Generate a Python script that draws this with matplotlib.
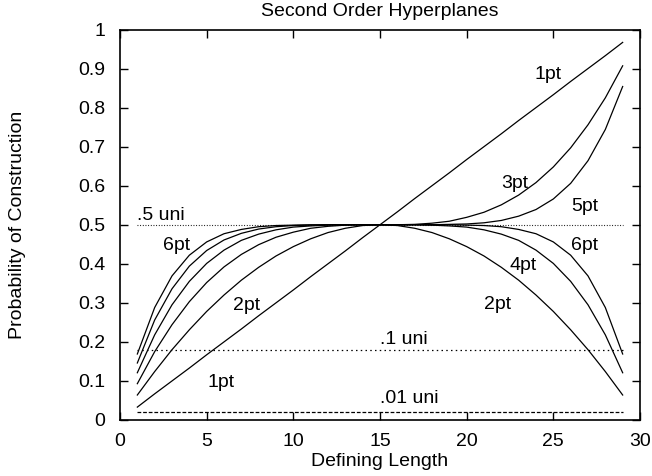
import matplotlib
matplotlib.use("Agg")
import matplotlib.pyplot as plt

plt.rcParams['font.family'] = ['Liberation Sans', 'DejaVu Sans']

x = list(range(1, 30))

p1 = [0.033, 0.067, 0.100, 0.133, 0.167, 0.200, 0.233, 0.267, 0.300, 0.333,
      0.367, 0.400, 0.433, 0.467, 0.500, 0.533, 0.567, 0.600, 0.633, 0.667,
      0.700, 0.733, 0.767, 0.800, 0.833, 0.867, 0.900, 0.933, 0.967]
p2 = [0.064, 0.124, 0.180, 0.231, 0.278, 0.320, 0.358, 0.391, 0.420, 0.444,
      0.464, 0.480, 0.491, 0.498, 0.500, 0.498, 0.491, 0.480, 0.464, 0.444,
      0.420, 0.391, 0.358, 0.320, 0.278, 0.231, 0.180, 0.124, 0.064]
p3 = [0.093, 0.175, 0.244, 0.303, 0.352, 0.392, 0.424, 0.449, 0.468, 0.481,
      0.491, 0.496, 0.499, 0.500, 0.500, 0.500, 0.501, 0.504, 0.509, 0.519,
      0.532, 0.551, 0.576, 0.608, 0.648, 0.697, 0.756, 0.825, 0.907]
p4 = [0.121, 0.218, 0.295, 0.355, 0.401, 0.435, 0.460, 0.476, 0.487, 0.494,
      0.497, 0.499, 0.500, 0.500, 0.500, 0.500, 0.500, 0.499, 0.497, 0.494,
      0.487, 0.476, 0.460, 0.435, 0.401, 0.355, 0.295, 0.218, 0.121]
p5 = [0.146, 0.256, 0.336, 0.394, 0.434, 0.461, 0.478, 0.489, 0.495, 0.498,
      0.499, 0.500, 0.500, 0.500, 0.500, 0.500, 0.500, 0.500, 0.501, 0.502,
      0.505, 0.511, 0.522, 0.539, 0.566, 0.606, 0.664, 0.744, 0.854]
p6 = [0.169, 0.288, 0.369, 0.422, 0.456, 0.477, 0.488, 0.495, 0.498, 0.499,
      0.500, 0.500, 0.500, 0.500, 0.500, 0.500, 0.500, 0.500, 0.500, 0.499,
      0.498, 0.495, 0.488, 0.477, 0.456, 0.422, 0.369, 0.288, 0.169]

uni_x = [1, 29]
uni05 = [0.5, 0.5]
uni01 = [0.18, 0.18]
uni001 = [0.0198, 0.0198]

labels = [
    ("1pt", 23.9, 0.885), ("3pt", 22.0, 0.605), ("5pt", 26.05, 0.546),
    ("6pt", 26.0, 0.446), ("4pt", 22.5, 0.395), ("2pt", 21.0, 0.295),
    ("6pt", 2.5, 0.448), ("2pt", 6.5, 0.294), ("1pt", 5.05, 0.096),
    (".5 uni", 1.0, 0.524), (".1 uni", 15.0, 0.205), (".01 uni", 15.0, 0.056),
]

FS = 14
W, H = 652, 476
fig = plt.figure(figsize=(W / 100, H / 100), dpi=100)
ax = fig.add_axes([120 / W, 1 - 420 / H, 520 / W, 390.5 / H])

for s in (p1, p2, p3, p4, p5, p6):
    ax.plot(x, s, color='black', lw=0.9)

ax.plot(uni_x, uni05, color='black', lw=0.8, linestyle=(0, (0.8, 1.6)))
ax.plot(uni_x, uni01, color='black', lw=0.9, linestyle=(0, (1.2, 2.6)))
ax.plot(uni_x, uni001, color='black', lw=0.9, linestyle=(0, (3.0, 1.5)))

for t, lx, ly in labels:
    ax.text(lx, ly, t, ha='left', va='center', fontsize=FS)

ax.set_xlim(0, 30)
ax.set_ylim(0, 1)
ax.set_xticks([0, 5, 10, 15, 20, 25, 30])
ax.set_yticks([0, 0.1, 0.2, 0.3, 0.4, 0.5, 0.6, 0.7, 0.8, 0.9, 1])
ax.set_yticklabels(["0", "0.1", "0.2", "0.3", "0.4", "0.5", "0.6", "0.7", "0.8", "0.9", "1"])
ax.tick_params(direction='in', top=True, right=True, length=5.5, width=1.0,
               labelsize=FS)
ax.tick_params(axis='y', pad=10.5)
ax.tick_params(axis='x', pad=9.5)
for sp in ax.spines.values():
    sp.set_linewidth(1.2)

fig.text(380 / W, 1 - 12 / H, "Second Order Hyperplanes", fontsize=FS,
         ha='center', va='center')
fig.text(380 / W, 1 - 461 / H, "Defining Length", fontsize=FS,
         ha='center', va='center')
fig.text(18 / W, 1 - 224.5 / H, "Probability of Construction", fontsize=FS,
         ha='center', va='center', rotation=90)

fig.savefig("out.png", dpi=100)
